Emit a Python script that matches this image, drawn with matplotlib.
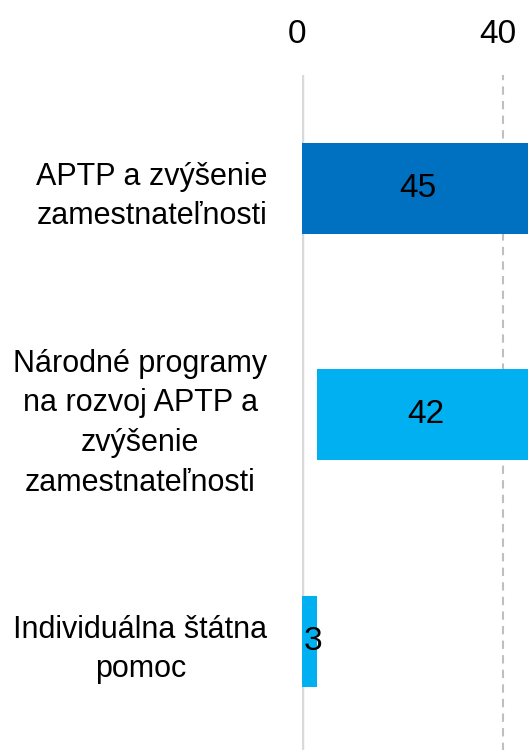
import matplotlib
matplotlib.use("Agg")
import matplotlib.pyplot as plt
import matplotlib.transforms as mtransforms

# data (waterfall: total = part 2 + part 3)
categories = ["APTP a zvýšenie\nzamestnateľnosti",
              "Národné programy\nna rozvoj APTP a\nzvýšenie\nzamestnateľnosti",
              "Individuálna štátna\npomoc"]
values = [45, 42, 3]
lefts = [0, values[2], 0]
colors = ["#0070C0", "#00B0F0", "#00B0F0"]
xticks = [0, 40]

plt.rcParams['font.family'] = ['Liberation Sans', 'DejaVu Sans']

fig = plt.figure(figsize=(5.29, 7.5), dpi=100)
ax = fig.add_axes([0.571, -0.006, 0.4275, 0.906])

ypos = list(range(len(categories)))
bars = ax.barh(ypos, values, left=lefts, height=0.4, color=colors, zorder=3)

for b, v in zip(bars, values):
    ax.text(b.get_x() + b.get_width() / 2 + 0.6, b.get_y() + b.get_height() / 2, str(v),
            ha='center', va='center', fontsize=24, color='black', zorder=4)

ax.set_xlim(0, 45)
ax.set_ylim(2.5, -0.5)
ax.set_xticks(xticks)
ax.xaxis.tick_top()
ax.tick_params(axis='x', length=0, pad=18, labelsize=24)
# labels sit a little left of their gridlines in the original
shift = mtransforms.ScaledTranslation(-5 / 100, 0, fig.dpi_scale_trans)
for lbl in ax.get_xticklabels():
    lbl.set_transform(lbl.get_transform() + shift)
ax.set_yticks(ypos)
ax.set_yticklabels(categories, fontsize=22, ha='right', multialignment='center', linespacing=1.42)
ax.tick_params(axis='y', length=0, pad=25)

ax.grid(axis='x', linestyle=(0, (4, 3)), color='#BFBFBF', linewidth=1.5, zorder=0)
ax.axvline(0, color='#D9D9D9', linewidth=2.5, zorder=2)
for s in ax.spines.values():
    s.set_visible(False)

fig.savefig("out.png", dpi=100)
